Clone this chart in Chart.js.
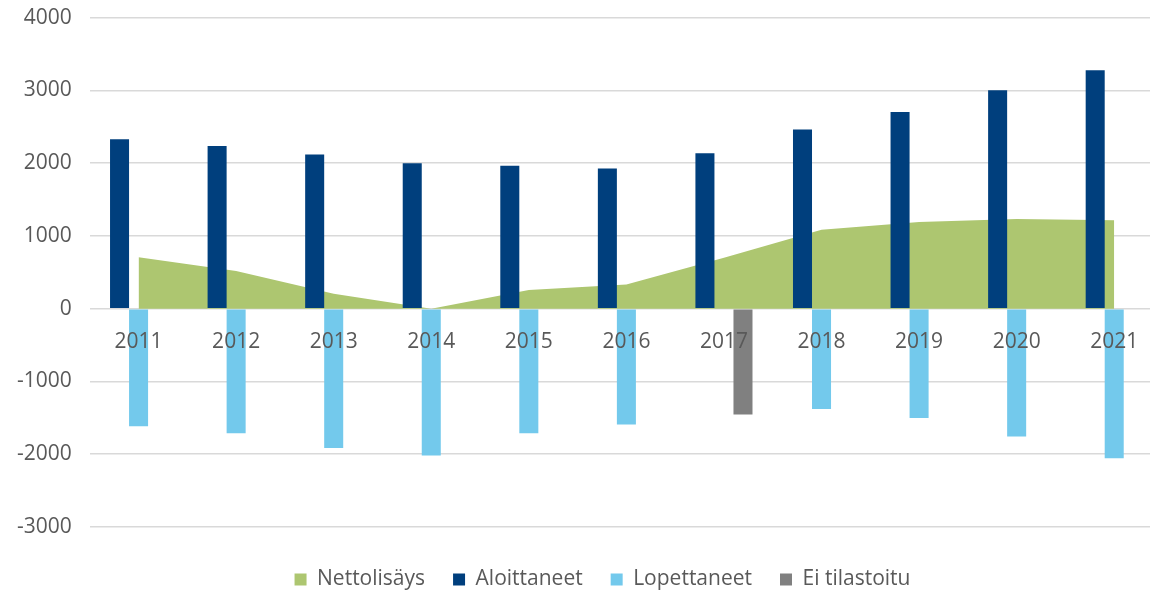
<!DOCTYPE html>
<html>
<head>
<meta charset="utf-8">
<script src="https://cdn.jsdelivr.net/npm/chart.js@4/dist/chart.umd.min.js"></script>
<style>
  html, body { margin: 0; padding: 0; background: #fff; overflow: hidden; }
  #wrap { width: 1163px; height: 590px; }
</style>
</head>
<body>
<div id="wrap"><canvas id="chart"></canvas></div>
<script>
var years = ['2011', '2012', '2013', '2014', '2015', '2016', '2017', '2018', '2019', '2020', '2021'];
var nettolisays = [707, 519, 206, 0, 256, 334, 700, 1085, 1190, 1234, 1216];
var aloittaneet = [2330, 2234, 2118, 2000, 1963, 1927, 2137, 2462, 2704, 3003, 3278];
var lopettaneet = [-1617, -1713, -1913, -2018, -1713, -1590, null, -1380, -1503, -1758, -2055];
var eiTilastoitu = [null, null, null, null, null, null, -1453, null, null, null, null];

var textColor = '#595959';
var fontFamily = "'Open Sans', 'Noto Sans', sans-serif";

// nudge the legend a bit to the right, like in the original
var legendShift = {
    id: 'legendShift',
    afterLayout: function(chart) {
        chart.legend.left += 15;
        chart.legend.right += 15;
    }
};

var ctx = document.getElementById('chart').getContext('2d');
var chart = new Chart(ctx, {
    data: {
        labels: years,
        datasets: [{
            type: 'line',
            label: 'Nettolisäys',
            data: nettolisays,
            backgroundColor: 'rgb(173, 198, 112)',
            borderColor: 'rgb(173, 198, 112)',
            borderWidth: 0,
            pointRadius: 0,
            tension: 0,
            fill: 'origin',
            order: 2
        }, {
            type: 'bar',
            label: 'Aloittaneet',
            data: aloittaneet,
            backgroundColor: 'rgb(0, 63, 125)',
            order: 1
        }, {
            type: 'bar',
            label: 'Lopettaneet',
            data: lopettaneet,
            backgroundColor: 'rgb(115, 201, 236)',
            order: 1
        }, {
            type: 'bar',
            label: 'Ei tilastoitu',
            data: eiTilastoitu,
            backgroundColor: 'rgb(128, 128, 128)',
            order: 1
        }]
    },
    plugins: [legendShift],
    options: {
        responsive: true,
        maintainAspectRatio: false,
        animation: false,
        datasets: {
            bar: {
                barPercentage: 1,
                categoryPercentage: 0.585
            }
        },
        layout: {
            padding: { left: 12, right: 0, top: 0, bottom: -10 }
        },
        scales: {
            x: {
                type: 'category',
                position: { y: 0 },
                grid: { display: false, drawTicks: false },
                border: { display: false },
                ticks: {
                    z: 1,
                    color: textColor,
                    font: { family: fontFamily, size: 21 },
                    padding: 21,
                    maxRotation: 0
                }
            },
            y: {
                min: -3000,
                max: 4000,
                ticks: {
                    stepSize: 1000,
                    color: textColor,
                    font: { family: fontFamily, size: 21 },
                    padding: 5,
                    callback: function(value) { return String(value); }
                },
                grid: {
                    color: '#d9d9d9',
                    lineWidth: 1.5,
                    drawTicks: true,
                    tickLength: 13,
                    tickColor: 'rgba(0, 0, 0, 0)'
                },
                border: { display: false }
            }
        },
        plugins: {
            legend: {
                position: 'bottom',
                title: { display: true, text: ' ', font: { size: 10 }, padding: 1 },
                labels: {
                    color: textColor,
                    font: { family: fontFamily, size: 21 },
                    boxWidth: 12,
                    boxHeight: 12,
                    padding: 28,
                    sort: function(a, b) { return a.datasetIndex - b.datasetIndex; }
                }
            },
            tooltip: { enabled: false }
        }
    }
});
</script>
</body>
</html>
